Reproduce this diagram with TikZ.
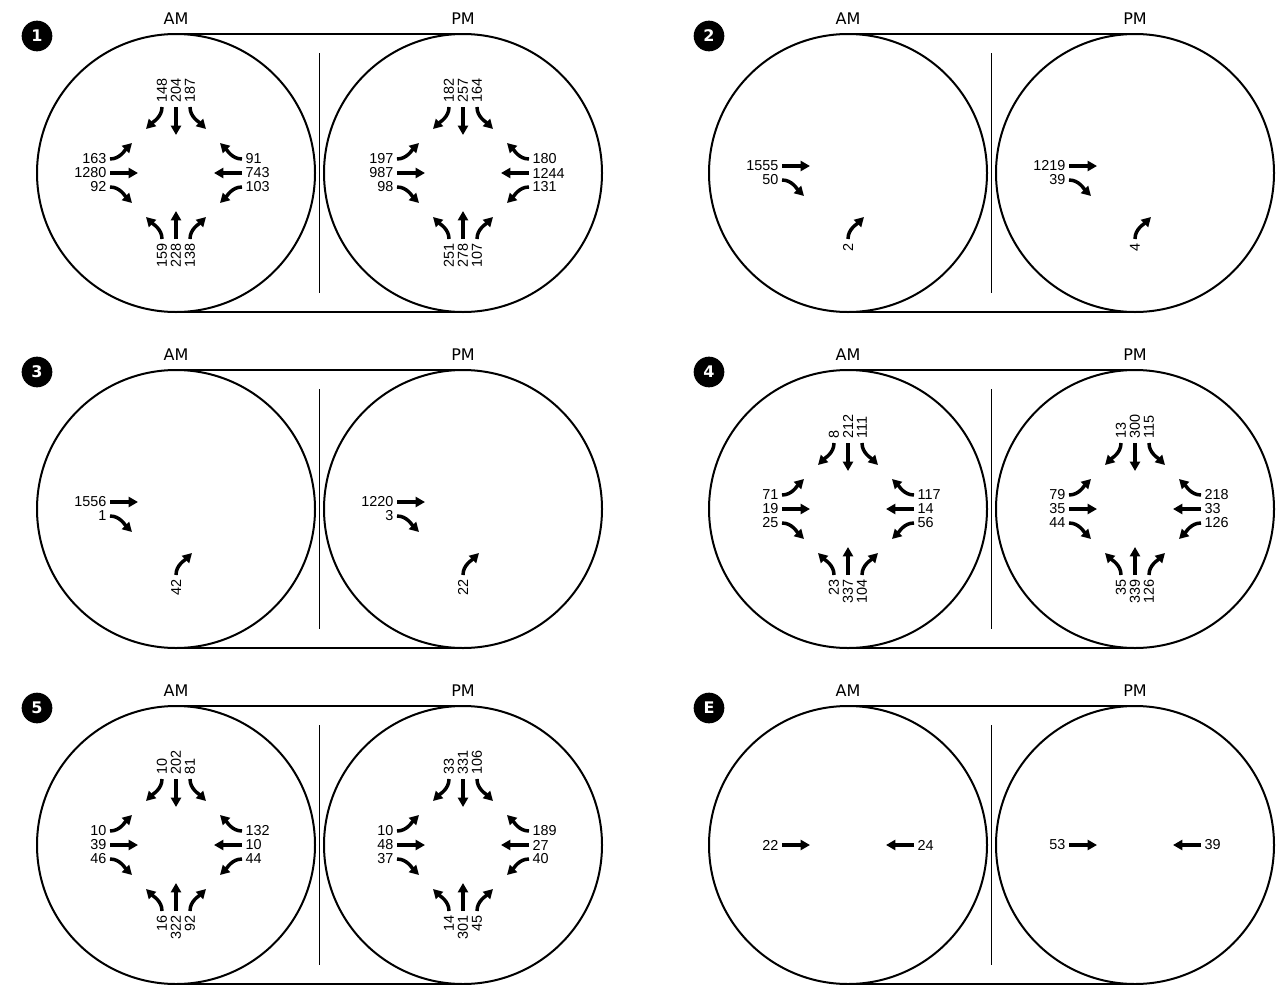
\documentclass[tikz,border=0pt]{standalone}
\usepackage{fontspec}
\setmainfont{Liberation Sans}
\newfontfamily\headfont{DejaVu Sans}
\usetikzlibrary{arrows.meta,positioning,calc}

% frame of one survey: AM and PM dials joined into one track
\newcommand{\panel}[2]{%
  \node[dial] (#1-amc) at (0,0) {};
  \node[dial] (#1-pmc) at (287,0) {};
  \draw[rim] (#1-amc.north) -- (#1-pmc.north);
  \draw[rim] (#1-amc.south) -- (#1-pmc.south);
  \draw[divider] (143.5,-120) -- (143.5,120);
  \node[period] (#1-am) at (0,-154) {AM};
  \node[period] (#1-pm) at (287,-154) {PM};
  \node[badge] (#1-badge) at (-139,-137) {#2};
}

% approaches of a crossing, drawn round the local origin
\newcommand{\armN}[4]{%
  \draw[mv] (-14,-66) .. controls (-14,-56) and (-23,-51) .. (-30,-44);
  \draw[mv] (0,-66) -- (0,-38);
  \draw[mv] (14,-66) .. controls (14,-56) and (23,-51) .. (30,-44);
  \node[volup, anchor=west] (#1-n1) at (-14,-69) {#2};
  \node[volup, anchor=west] (#1-n2) at (0,-69) {#3};
  \node[volup, anchor=west] (#1-n3) at (14,-69) {#4};
}
\newcommand{\armS}[4]{%
  \draw[mv] (-14,66) .. controls (-14,56) and (-23,51) .. (-30,44);
  \draw[mv] (0,66) -- (0,38);
  \draw[mv] (14,66) .. controls (14,56) and (23,51) .. (30,44);
  \node[volup, anchor=east] (#1-s1) at (-14,69) {#2};
  \node[volup, anchor=east] (#1-s2) at (0,69) {#3};
  \node[volup, anchor=east] (#1-s3) at (14,69) {#4};
}
\newcommand{\armW}[4]{%
  \draw[mv] (-66,-14) .. controls (-56,-14) and (-51,-23) .. (-44,-30);
  \draw[mv] (-66,0) -- (-38,0);
  \draw[mv] (-66,14) .. controls (-56,14) and (-51,23) .. (-44,30);
  \node[vol, anchor=east] (#1-w1) at (-68,-14) {#2};
  \node[vol, anchor=east] (#1-w2) at (-68,0) {#3};
  \node[vol, anchor=east] (#1-w3) at (-68,14) {#4};
}
\newcommand{\armE}[4]{%
  \draw[mv] (66,-14) .. controls (56,-14) and (51,-23) .. (44,-30);
  \draw[mv] (66,0) -- (38,0);
  \draw[mv] (66,14) .. controls (56,14) and (51,23) .. (44,30);
  \node[vol, anchor=west] (#1-e1) at (68,-14) {#2};
  \node[vol, anchor=west] (#1-e2) at (68,0) {#3};
  \node[vol, anchor=west] (#1-e3) at (68,14) {#4};
}
% T junction: through and right from the west, right from the south
\newcommand{\tee}[4]{%
  \draw[mv] (-66,-7) -- (-38,-7);
  \draw[mv] (-66,7) .. controls (-56,7) and (-51,16) .. (-44,23);
  \draw[mv] (0,66) .. controls (0,56) and (9,51) .. (16,44);
  \node[vol, anchor=east] (#1-w2) at (-68,-7) {#2};
  \node[vol, anchor=east] (#1-w3) at (-68,7) {#3};
  \node[volup, anchor=east] (#1-s3) at (0,69) {#4};
}

\begin{document}
\begin{tikzpicture}[
  x=0.75pt, y=-0.75pt,
  dial/.style={circle, draw=black, line width=1.5pt, minimum size=208.5pt, inner sep=0pt, outer sep=0pt},
  rim/.style={draw=black, line width=1.1pt},
  divider/.style={draw=black, line width=1.3pt},
  mv/.style={-{Triangle[length=7pt, width=7.5pt]}, line width=2.6pt, black},
  vol/.style={font=\fontsize{10.8}{11}\selectfont, inner sep=1pt},
  volup/.style={vol, rotate=90},
  period/.style={font=\headfont\fontsize{12}{12}\selectfont, inner sep=0pt},
  badge/.style={circle, fill=black, text=white, minimum size=23pt, inner sep=0pt, font=\headfont\bfseries\fontsize{12}{12}\selectfont},
]
  \useasboundingbox (0,0) rectangle (1285,985);

  % 1
  \begin{scope}[shift={(176,173)}]
    \panel{p1}{1}
    \armN{p1am}{148}{204}{187}
    \armW{p1am}{163}{1280}{92}
    \armE{p1am}{91}{743}{103}
    \armS{p1am}{159}{228}{138}
    \begin{scope}[shift={(287,0)}]
      \armN{p1pm}{182}{257}{164}
      \armW{p1pm}{197}{987}{98}
      \armE{p1pm}{180}{1244}{131}
      \armS{p1pm}{251}{278}{107}
    \end{scope}
  \end{scope}

  % 2
  \begin{scope}[shift={(848,173)}]
    \panel{p2}{2}
    \tee{p2am}{1555}{50}{2}
    \begin{scope}[shift={(287,0)}]
      \tee{p2pm}{1219}{39}{4}
    \end{scope}
  \end{scope}

  % 3
  \begin{scope}[shift={(176,509)}]
    \panel{p3}{3}
    \tee{p3am}{1556}{1}{42}
    \begin{scope}[shift={(287,0)}]
      \tee{p3pm}{1220}{3}{22}
    \end{scope}
  \end{scope}

  % 4
  \begin{scope}[shift={(848,509)}]
    \panel{p4}{4}
    \armN{p4am}{8}{212}{111}
    \armW{p4am}{71}{19}{25}
    \armE{p4am}{117}{14}{56}
    \armS{p4am}{23}{337}{104}
    \begin{scope}[shift={(287,0)}]
      \armN{p4pm}{13}{300}{115}
      \armW{p4pm}{79}{35}{44}
      \armE{p4pm}{218}{33}{126}
      \armS{p4pm}{35}{339}{126}
    \end{scope}
  \end{scope}

  % 5
  \begin{scope}[shift={(176,845)}]
    \panel{p5}{5}
    \armN{p5am}{10}{202}{81}
    \armW{p5am}{10}{39}{46}
    \armE{p5am}{132}{10}{44}
    \armS{p5am}{16}{322}{92}
    \begin{scope}[shift={(287,0)}]
      \armN{p5pm}{33}{331}{106}
      \armW{p5pm}{10}{48}{37}
      \armE{p5pm}{189}{27}{40}
      \armS{p5pm}{14}{301}{45}
    \end{scope}
  \end{scope}

  % E
  \begin{scope}[shift={(848,845)}]
    \panel{pe}{E}
    \draw[mv] (-66,0) -- (-38,0);
    \draw[mv] (66,0) -- (38,0);
    \node[vol, anchor=east] (peam-w) at (-68,0) {22};
    \node[vol, anchor=west] (peam-e) at (68,0) {24};
    \draw[mv] (221,0) -- (249,0);
    \draw[mv] (353,0) -- (325,0);
    \node[vol, anchor=east] (pepm-w) at (219,0) {53};
    \node[vol, anchor=west] (pepm-e) at (355,0) {39};
  \end{scope}
\end{tikzpicture}
\end{document}
